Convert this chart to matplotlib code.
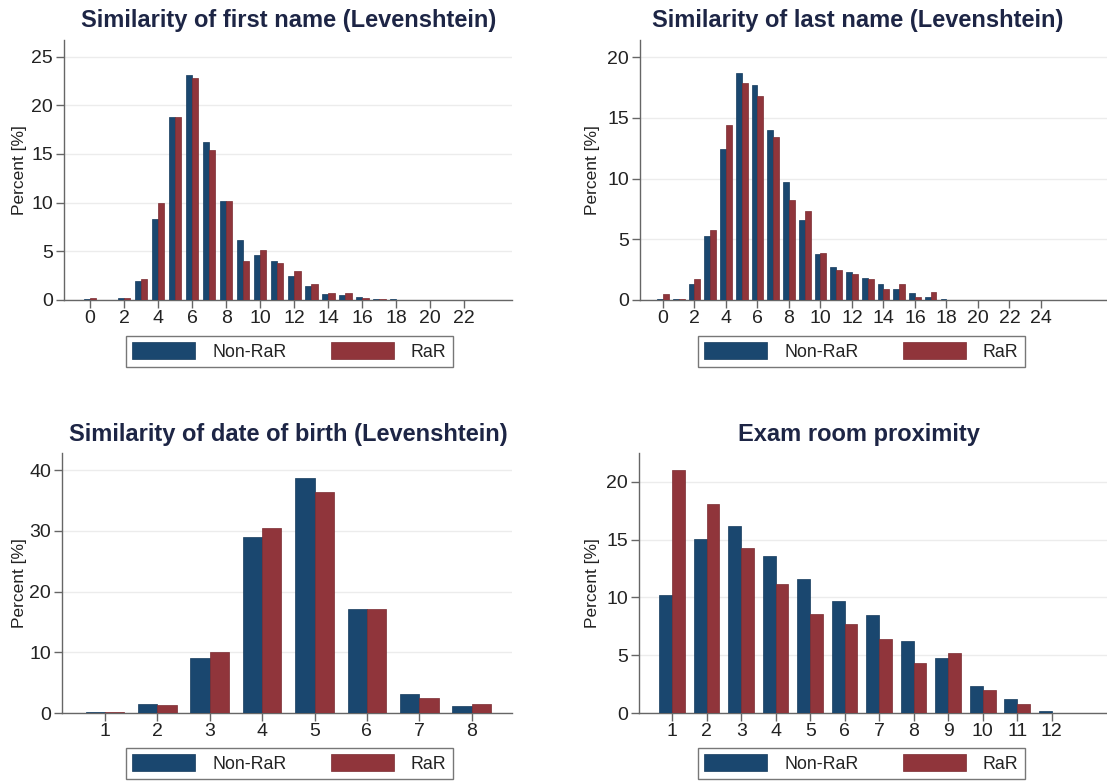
import matplotlib
matplotlib.use("Agg")
import matplotlib.pyplot as plt
import numpy as np

plt.rcParams['font.family'] = ['Liberation Sans', 'DejaVu Sans']

NAVY = '#1a476f'
MAROON = '#90353b'
TITLE_COLOR = '#1d2545'

# similarity of first name (Levenshtein distance 0..23)
first_x = list(range(0, 24))
first_non = [0.1, 0.05, 0.2, 1.95, 8.3, 18.8, 23.1, 16.2, 10.2, 6.2, 4.6, 4.0,
             2.5, 1.4, 0.6, 0.5, 0.3, 0.15, 0.1, 0.05, 0.04, 0.03, 0.03, 0.03]
first_rar = [0.2, 0.05, 0.2, 2.2, 10.0, 18.8, 22.8, 15.4, 10.2, 4.0, 5.1, 3.8,
             3.0, 1.6, 0.7, 0.7, 0.2, 0.1, 0.05, 0.05, 0.03, 0.03, 0.02, 0.02]
first_ticks = list(range(0, 23, 2))

# similarity of last name (0..25)
last_x = list(range(0, 26))
last_non = [0.05, 0.1, 1.3, 5.3, 12.4, 18.7, 17.7, 14.0, 9.7, 6.6, 3.8, 2.7, 2.3,
            1.8, 1.3, 0.9, 0.6, 0.25, 0.05, 0.03, 0.02, 0.02, 0.02, 0.02, 0.02, 0.02]
last_rar = [0.5, 0.05, 1.7, 5.8, 14.4, 17.9, 16.8, 13.4, 8.2, 7.3, 3.9, 2.5, 2.1,
            1.7, 0.9, 1.3, 0.25, 0.65, 0.03, 0.02, 0.02, 0.02, 0.02, 0.02, 0.02, 0.02]
last_ticks = list(range(0, 25, 2))

# similarity of date of birth (1..8)
dob_x = list(range(1, 9))
dob_non = [0.1, 1.5, 9.0, 29.0, 38.7, 17.2, 3.1, 1.2]
dob_rar = [0.1, 1.3, 10.1, 30.5, 36.4, 17.2, 2.5, 1.5]
dob_ticks = list(range(1, 9))

# exam room proximity (1..12)
room_x = list(range(1, 13))
room_non = [10.2, 15.1, 16.2, 13.6, 11.6, 9.7, 8.5, 6.2, 4.8, 2.3, 1.2, 0.2]
room_rar = [21.0, 18.1, 14.3, 11.2, 8.6, 7.7, 6.4, 4.3, 5.2, 2.0, 0.75, 0.0]
room_ticks = list(range(1, 13))

W, H = 1107, 781
fig = plt.figure(figsize=(W / 100, H / 100), dpi=100)
fig.patch.set_facecolor('white')


def px_axes(left, top, right, bottom):
    return fig.add_axes([left / W, 1 - bottom / H, (right - left) / W, (bottom - top) / H])


panels = [
    # title, x, non, rar, ticks, yticks, xlim, ylim, axes box, title pos, legend pos, ylabel x
    ("Similarity of first name (Levenshtein)", first_x, first_non, first_rar, first_ticks,
     range(0, 26, 5), (-1.53, 24.8), (0, 26.7), (64, 40, 512, 300), (289, 20), (126, 336), 27),
    ("Similarity of last name (Levenshtein)", last_x, last_non, last_rar, last_ticks,
     range(0, 21, 5), (-1.46, 28.2), (0, 21.4), (640, 40, 1107, 300), (858, 20), (698, 336), 600),
    ("Similarity of date of birth (Levenshtein)", dob_x, dob_non, dob_rar, dob_ticks,
     range(0, 41, 10), (0.18, 8.77), (0, 42.8), (62, 453, 512, 713), (288, 434), (126, 748), 27),
    ("Exam room proximity", room_x, room_non, room_rar, room_ticks,
     range(0, 21, 5), (0.04, 13.6), (0, 22.5), (639, 453, 1107, 713), (859, 434), (698, 748), 600),
]

bw = 0.37
for title, x, non, rar, ticks, yticks, xlim, ylim, box, tpos, lpos, ylx in panels:
    ax = px_axes(*box)
    x = np.array(x)
    ax.bar(x - bw / 2, non, width=bw, color=NAVY, edgecolor='#143a5c', linewidth=0.5,
           label='Non-RaR', zorder=3)
    ax.bar(x + bw / 2, rar, width=bw, color=MAROON, edgecolor='#7a2b31', linewidth=0.5,
           label='RaR', zorder=3)
    ax.set_xlim(*xlim)
    ax.set_ylim(*ylim)
    ax.set_xticks(ticks)
    ax.set_yticks(list(yticks))
    ax.grid(axis='y', color='#ececec', linewidth=1, zorder=0)
    for s in ['top', 'right']:
        ax.spines[s].set_visible(False)
    for s in ['left', 'bottom']:
        ax.spines[s].set_color('#666666')
        ax.spines[s].set_linewidth(1)
    ax.tick_params(axis='both', colors='#666666', labelcolor='#222222',
                   labelsize=14, length=5.5, width=1)
    ax.tick_params(axis='y', pad=2.5)
    ax.tick_params(axis='x', pad=1.5)
    ax.set_ylabel('Percent [%]', fontsize=12.5, color='#222222')
    ax.yaxis.set_label_coords(ylx / W, 1 - (box[1] + box[3]) / 2 / H,
                              transform=fig.transFigure)
    fig.text(tpos[0] / W, 1 - tpos[1] / H, title, ha='center', va='center',
             fontsize=17, fontweight='bold', color=TITLE_COLOR)
    leg = ax.legend(loc='upper left', bbox_to_anchor=(lpos[0] / W, 1 - lpos[1] / H),
                    bbox_transform=fig.transFigure, ncol=2, fontsize=12.8,
                    handlelength=3.55, handleheight=1.1, handletextpad=0.95,
                    columnspacing=2.5, borderpad=0.35, borderaxespad=0,
                    fancybox=False, framealpha=1, edgecolor='#777777')
    leg.get_frame().set_linewidth(1)
    for t in leg.get_texts():
        t.set_color('#222222')

fig.savefig('out.png', dpi=100, facecolor='white')
